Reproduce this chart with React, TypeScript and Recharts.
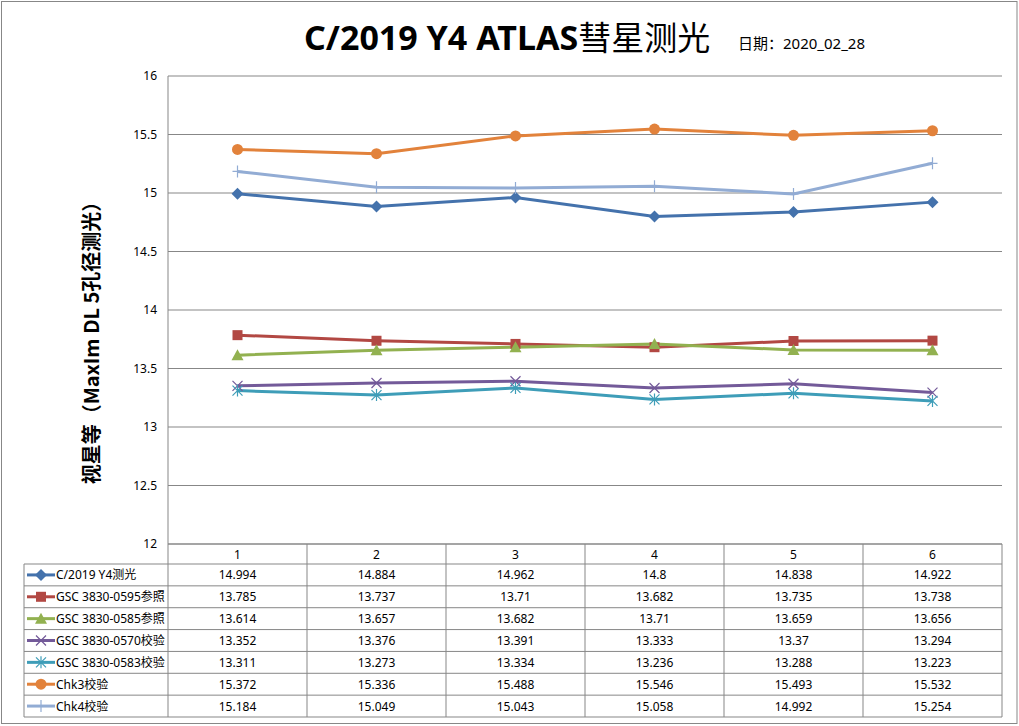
import { CartesianGrid, ComposedChart, Line, XAxis, YAxis } from "recharts";

// categories (observation index) and series magnitudes
const categories = ["1", "2", "3", "4", "5", "6"];
const cometMag = [14.994, 14.884, 14.962, 14.8, 14.838, 14.922];
const ref0595 = [13.785, 13.737, 13.71, 13.682, 13.735, 13.738];
const ref0585 = [13.614, 13.657, 13.682, 13.71, 13.659, 13.656];
const chk0570 = [13.352, 13.376, 13.391, 13.333, 13.37, 13.294];
const chk0583 = [13.311, 13.273, 13.334, 13.236, 13.288, 13.223];
const chk3 = [15.372, 15.336, 15.488, 15.546, 15.493, 15.532];
const chk4 = [15.184, 15.049, 15.043, 15.058, 14.992, 15.254];
const yTicks = [12, 12.5, 13, 13.5, 14, 14.5, 15, 15.5, 16];

type Shape = "diamond" | "square" | "triangle" | "x" | "star" | "circle" | "plus";

const series: { key: string; name: string; values: number[]; color: string; shape: Shape }[] = [
  { key: "comet", name: "C/2019 Y4测光", values: cometMag, color: "#4472AC", shape: "diamond" },
  { key: "r0595", name: "GSC 3830-0595参照", values: ref0595, color: "#B24843", shape: "square" },
  { key: "r0585", name: "GSC 3830-0585参照", values: ref0585, color: "#92B150", shape: "triangle" },
  { key: "c0570", name: "GSC 3830-0570校验", values: chk0570, color: "#735A99", shape: "x" },
  { key: "c0583", name: "GSC 3830-0583校验", values: chk0583, color: "#3E9DB8", shape: "star" },
  { key: "chk3", name: "Chk3校验", values: chk3, color: "#E2823B", shape: "circle" },
  { key: "chk4", name: "Chk4校验", values: chk4, color: "#92ACD4", shape: "plus" }
];

const data = categories.map((c, i) => {
  const row: Record<string, number | string> = { cat: c };
  series.forEach((s) => (row[s.key] = s.values[i]));
  return row;
});

const W = 1019;
const H = 726;
const PLOT_L = 168;
const PLOT_R = 1002;
const PLOT_T = 76;
const PLOT_B = 544;
const TABLE_L = 24;
const TABLE_B = 717;
const HEADER_B = 564;
const GRID = "#878787";
const FONT = "'Noto Sans', 'Noto Sans CJK SC', sans-serif";

function Marker({ cx, cy, shape, color }: { cx: number; cy: number; shape: Shape; color: string }) {
  switch (shape) {
    case "diamond":
      return <path d={`M${cx},${cy - 6}L${cx + 6},${cy}L${cx},${cy + 6}L${cx - 6},${cy}Z`} fill={color} />;
    case "square":
      return <rect x={cx - 5} y={cy - 5} width={10} height={10} fill={color} />;
    case "triangle":
      return <path d={`M${cx},${cy - 6}L${cx + 6},${cy + 5}L${cx - 6},${cy + 5}Z`} fill={color} />;
    case "circle":
      return <circle cx={cx} cy={cy} r={5.5} fill={color} />;
    case "x":
      return (
        <path d={`M${cx - 5},${cy - 5}L${cx + 5},${cy + 5}M${cx - 5},${cy + 5}L${cx + 5},${cy - 5}`} stroke={color} strokeWidth={1.2} fill="none" />
      );
    case "star":
      return (
        <path
          d={`M${cx - 5},${cy - 5}L${cx + 5},${cy + 5}M${cx - 5},${cy + 5}L${cx + 5},${cy - 5}M${cx},${cy - 6}L${cx},${cy + 6}`}
          stroke={color}
          strokeWidth={1.2}
          fill="none"
        />
      );
    case "plus":
    default:
      return (
        <path d={`M${cx - 5},${cy}L${cx + 5},${cy}M${cx},${cy - 6}L${cx},${cy + 6}`} stroke={color} strokeWidth={1.2} fill="none" />
      );
  }
}

// data table under the plot, columns line up with the x categories
function DataTable() {
  const colW = (PLOT_R - PLOT_L) / categories.length;
  const rowH = (TABLE_B - HEADER_B) / series.length;
  return (
    <g fontFamily={FONT} fontSize={12} fill="#000">
      {categories.map((_, i) => (
        <line key={`v${i}`} x1={PLOT_L + i * colW} x2={PLOT_L + i * colW} y1={PLOT_B} y2={TABLE_B} stroke={GRID} />
      ))}
      <line x1={PLOT_R} x2={PLOT_R} y1={PLOT_B} y2={TABLE_B} stroke={GRID} />
      <line x1={TABLE_L} x2={TABLE_L} y1={HEADER_B} y2={TABLE_B} stroke={GRID} />
      {series.map((_, r) => (
        <line key={`h${r}`} x1={TABLE_L} x2={PLOT_R} y1={HEADER_B + r * rowH} y2={HEADER_B + r * rowH} stroke={GRID} />
      ))}
      <line x1={TABLE_L} x2={PLOT_R} y1={TABLE_B} y2={TABLE_B} stroke={GRID} />
      {series.map((s, r) => {
        const cy = HEADER_B + r * rowH + rowH / 2;
        return (
          <g key={s.key}>
            <line x1={27} x2={55} y1={cy} y2={cy} stroke={s.color} strokeWidth={3} />
            <Marker cx={41} cy={cy} shape={s.shape} color={s.color} />
            <text x={56} y={cy} dominantBaseline="central">
              {s.name}
            </text>
            {s.values.map((v, i) => (
              <text key={i} x={PLOT_L + i * colW + colW / 2} y={cy} textAnchor="middle" dominantBaseline="central">
                {String(v)}
              </text>
            ))}
          </g>
        );
      })}
    </g>
  );
}

export default function App() {
  return (
    <div style={{ position: "relative", width: W, height: H, background: "#fff" }}>
      <style>{"body{margin:0}"}</style>
      <ComposedChart
        width={W}
        height={H}
        data={data}
        margin={{ top: PLOT_T, right: W - PLOT_R, bottom: H - PLOT_B - 20, left: PLOT_L - 60 }}
      >
        <CartesianGrid horizontal vertical={false} stroke={GRID} strokeWidth={1} />
        <XAxis
          dataKey="cat"
          scale="band"
          height={20}
          axisLine={{ stroke: GRID }}
          tickLine={false}
          tickMargin={0}
          tick={{ fill: "#000", fontSize: 12, fontFamily: FONT }}
        />
        <YAxis
          width={60}
          domain={[12, 16]}
          ticks={yTicks}
          interval={0}
          axisLine={{ stroke: GRID }}
          tickLine={false}
          tickMargin={5}
          tick={{ fill: "#000", fontSize: 12, fontFamily: FONT }}
          tickFormatter={(v) => String(v)}
        />
        {series.map((s) => (
          <Line
            key={s.key}
            dataKey={s.key}
            name={s.name}
            type="linear"
            stroke={s.color}
            strokeWidth={3}
            isAnimationActive={false}
            activeDot={false}
            dot={(p: any) => (
              <Marker key={`${s.key}-${p.index}`} cx={p.cx} cy={p.cy} shape={s.shape} color={s.color} />
            )}
          />
        ))}
      </ComposedChart>
      <svg width={W} height={H} style={{ position: "absolute", left: 0, top: 0, pointerEvents: "none" }}>
        <rect x={1.5} y={1.5} width={W - 3.5} height={H - 4} fill="none" stroke={GRID} />
        <text x={304} y={50} fontFamily={FONT} fontSize={34} fill="#000">
          <tspan fontWeight="bold">C/2019 Y4 ATLAS</tspan>
          <tspan fontFamily="'Noto Sans CJK SC', sans-serif" fontSize={33}>彗星测光</tspan>
        </text>
        <text x={738} y={49} fontFamily={FONT} fontSize={15} fill="#000">
          日期：2020_02_28
        </text>
        <text
          x={90}
          y={338}
          transform="rotate(-90 90 338)"
          textAnchor="middle"
          dominantBaseline="central"
          fontFamily="'Noto Sans CJK SC', sans-serif"
          fontWeight="bold"
          fontSize={20}
          fill="#000"
        >
          视星等（MaxIm DL 5孔径测光）
        </text>
        <DataTable />
      </svg>
    </div>
  );
}
